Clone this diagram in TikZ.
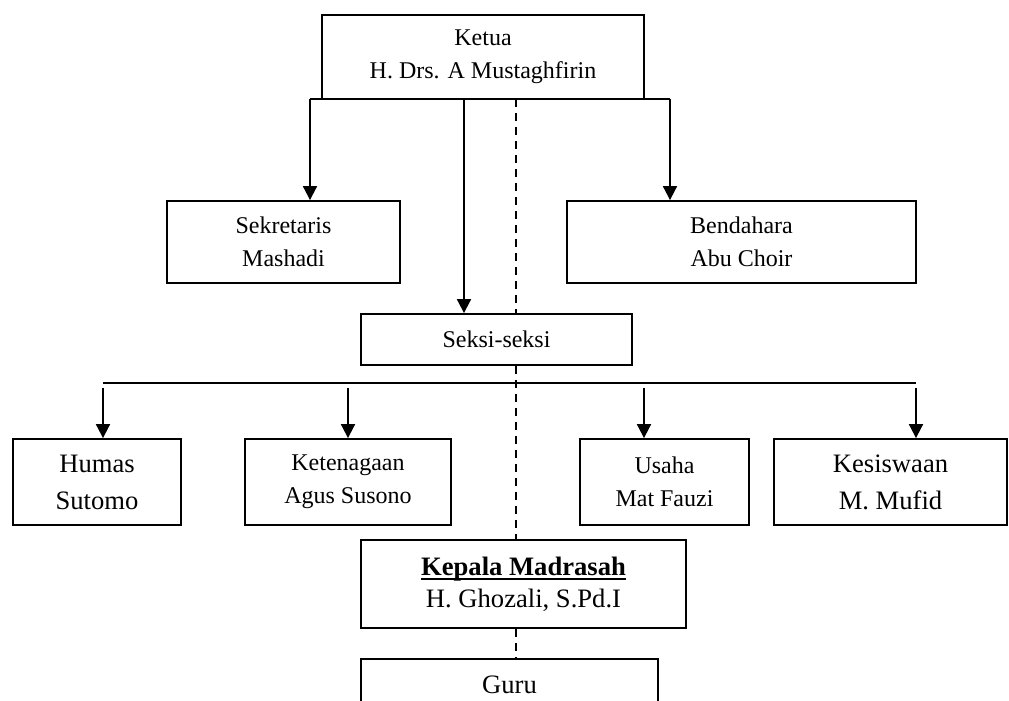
\documentclass[tikz,border=0pt]{standalone}
\usepackage{fontspec}
\setmainfont{Liberation Serif}
\usetikzlibrary{arrows.meta}

\newcommand\garisbawah[1]{{\setbox0\hbox{#1}\rlap{\rule[-2.3pt]{\wd0}{1pt}}\box0}}

\tikzset{
	box/.style={draw, line width=0.9pt, align=center, inner sep=0pt},
	small/.style={font=\fontsize{12}{16.5}\selectfont},
	big/.style={font=\fontsize{13.3}{18.5}\selectfont},
	conn/.style={line width=0.9pt, -{Triangle[width=7pt, length=7pt]}},
	guide/.style={line width=0.8pt, dash pattern=on 4pt off 3pt}
}

\begin{document}
\begin{tikzpicture}[x=0.5pt, y=-0.5pt]
		\useasboundingbox (0, 0) rectangle (1009, 701);
		\clip (0, 0) rectangle (1009, 701);
		% pengurus
		\node[box, small, minimum width=161pt, minimum height=42pt] (ketua) at (483, 57) {Ketua\\H. Drs. A Mustaghfirin};
		\node[box, small, minimum width=116.5pt, minimum height=41pt] (sekretaris) at (283.5, 242) {Sekretaris\\Mashadi};
		\node[box, small, minimum width=174.5pt, minimum height=41pt] (bendahara) at (741.5, 242) {Bendahara\\Abu Choir};
		\node[box, small, minimum width=135.5pt, minimum height=25.5pt] (seksi) at (496.5, 339.5) {Seksi-seksi};
		% seksi
		\node[box, big, minimum width=84pt, minimum height=43pt] (humas) at (97, 482) {Humas\\Sutomo};
		\node[box, small, minimum width=103pt, minimum height=43pt] (ketenagaan) at (348, 482) {Ketenagaan\\Agus Susono};
		\node[box, small, minimum width=84.5pt, minimum height=43pt] (usaha) at (664.5, 482) {Usaha\\Mat Fauzi};
		\node[box, big, minimum width=116.5pt, minimum height=43pt] (kesiswaan) at (890.5, 482) {Kesiswaan\\M. Mufid};
		% madrasah
		\node[box, font=\fontsize{13.3}{16}\selectfont, minimum width=162.5pt, minimum height=44pt] (kepala) at (523.5, 584) {\garisbawah{\textbf{Kepala Madrasah}}\\H. Ghozali, S.Pd.I};
		\node[box, big, anchor=north, minimum width=148.5pt, text height=17.5pt, text depth=20pt] (guru) at (509.5, 658) {Guru};

		\coordinate (kl) at (310, 99);
		\coordinate (kr) at (670, 99);
		\coordinate (ks) at (464, 99);
		\coordinate (kd) at (516, 99);
		\draw[line width=0.9pt] (kl) -- (kr);
		\draw[conn] (kl) -- (kl |- sekretaris.north);
		\draw[conn] (kr) -- (kr |- bendahara.north);
		\draw[conn] (ks) -- (ks |- seksi.north);

		\coordinate (dh) at (103, 383);
		\coordinate (dk) at (348, 383);
		\coordinate (du) at (644, 383);
		\coordinate (ds) at (916, 383);
		\draw[line width=0.7pt] (dh) -- (ds);
		\foreach \d/\n in {dh/humas, dk/ketenagaan, du/usaha, ds/kesiswaan}
			\draw[conn] ([yshift=-2.5pt]\d) -- (\d |- \n.north);

		\draw[guide] (kd) -- (kd |- seksi.north);
		\draw[guide] (kd |- seksi.south) -- (kd |- kepala.north);
		\draw[guide] (kd |- kepala.south) -- (kd |- guru.north);
	\end{tikzpicture}
\end{document}
